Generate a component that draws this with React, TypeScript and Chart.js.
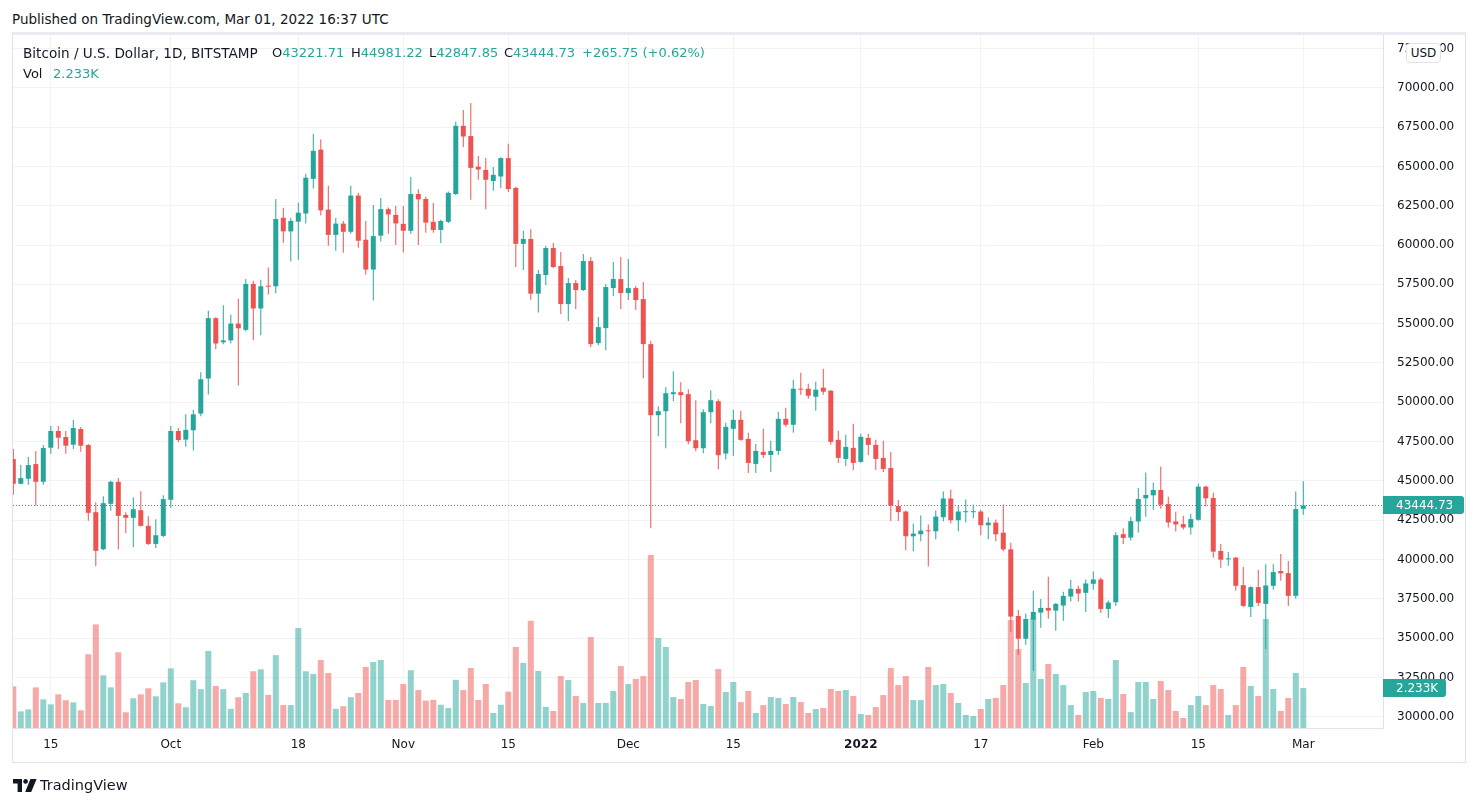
import React, { useEffect, useRef } from "react";
import { Chart, registerables } from "chart.js";

Chart.register(...registerables);

// ---------- data (BTC/USD, 1D, BITSTAMP; first candle 2021-09-10) ----------
const startDate = "2021-09-10";

const opens = [
  46389, 44817, 45136, 46071, 44945, 47111, 48173, 47791, 47302, 48301,
  47281, 43012, 40654, 43543, 44945, 42842, 42651, 43139, 42141, 40994,
  41504, 43798, 48173, 47625, 48219, 49284, 51511, 55347, 53813, 53937,
  55001, 54605, 57525, 55966, 57402, 57377, 61733, 60867, 61485, 62005,
  64208, 66064, 62253, 60644, 61362, 60842, 63144, 60335, 58440, 60594,
  62282, 61918, 61347, 60906, 63242, 62931, 61477, 60958, 61477, 63242,
  67578, 66929, 64982, 64774, 64073, 64358, 65527, 63632, 60075, 60387,
  56908, 58091, 59810, 58664, 56245, 57581, 57136, 58982, 53762, 54717,
  57263, 57836, 56945, 57263, 56563, 53698, 49178, 49433, 50515, 50642,
  50515, 47587, 47078, 49369, 50070, 46739, 48312, 48886, 47674, 46080,
  46845, 46654, 46909, 48950, 48567, 50863, 50863, 50353, 50927, 50736,
  47611, 46399, 47100, 46207, 47738, 47292, 46463, 45825, 43401, 43053,
  41478, 41606, 41861, 41797, 42691, 43882, 42499, 43010, 43010, 43053,
  42180, 42350, 41712, 40648, 36413, 34966, 36179, 36626, 36924, 36754,
  37073, 37647, 38137, 37882, 38458, 38735, 36859, 37286, 41612, 41398,
  42421, 43892, 44084, 44424, 43529, 42421, 42251, 42038, 42528, 44638,
  43913, 40546, 40013, 40120, 38372, 36987, 38245, 37180, 38330, 39268,
  39140, 37691, 43221.71,
];

const highs = [
  47026, 46007, 46517, 46899, 47281, 48492, 48492, 48173, 48874, 48428,
  47345, 43649, 44031, 45009, 45178, 43012, 43968, 44350, 42757, 42566,
  44095, 48492, 48364, 49234, 49531, 51907, 55818, 55400, 56164, 55570,
  56585, 57847, 57723, 57798, 58565, 62921, 62376, 61733, 62698, 64530,
  67079, 66708, 63762, 61733, 61535, 63762, 63317, 61529, 62541, 62983,
  62386, 62489, 62489, 64333, 63554, 63086, 62671, 61607, 63400, 67837,
  68590, 69031, 65656, 65527, 64956, 65580, 66435, 63700, 60906, 61010,
  58414, 59937, 60128, 59555, 57900, 57772, 59428, 59237, 55417, 57518,
  58918, 59237, 59109, 57390, 57645, 53889, 49751, 50961, 51979, 51279,
  50833, 50133, 49560, 50770, 50197, 48695, 49524, 49460, 48057, 47355,
  48312, 47547, 49396, 49652, 51437, 51884, 51182, 51310, 52139, 50780,
  48185, 47929, 48631, 47993, 47993, 47611, 47547, 46845, 43784, 43116,
  42286, 42797, 42223, 43116, 44329, 44457, 43436, 43819, 43499, 43180,
  42670, 42542, 43499, 41074, 36796, 36562, 38009, 37498, 38903, 37230,
  37945, 38711, 38328, 38735, 39246, 38863, 37392, 41739, 41995, 42698,
  44552, 45533, 44893, 45916, 43998, 43039, 42784, 42911, 44829, 44700,
  44254, 40994, 40482, 40162, 39523, 38300, 39331, 39694, 39694, 40355,
  39907, 44319, 44981.22,
];

const lows = [
  44116, 44790, 44754, 43416, 44754, 46729, 47026, 46729, 47026, 46856,
  42460, 39592, 40591, 43097, 40654, 41674, 40803, 42100, 40930, 40739,
  41440, 43288, 47472, 47180, 46932, 49110, 50496, 53367, 53689, 53739,
  51066, 54506, 53937, 54258, 56857, 56931, 60149, 58961, 59060, 61362,
  63589, 61881, 59951, 59629, 59505, 60718, 59827, 58128, 56467, 60231,
  60724, 59997, 59530, 60724, 59997, 60776, 60776, 60127, 61399, 63180,
  66228, 62879, 64151, 62282, 63450, 63632, 63372, 58595, 58414, 56519,
  55714, 57454, 58536, 55608, 55162, 55926, 57072, 53507, 53634, 53316,
  56754, 55926, 56499, 55863, 51534, 41985, 47841, 47078, 50070, 48669,
  47332, 46887, 46759, 48669, 45741, 46356, 46590, 47547, 45506, 45506,
  46463, 45570, 46654, 48440, 48057, 50481, 50226, 49460, 50481, 47292,
  46144, 45952, 45697, 46150, 46654, 45697, 45570, 42444, 42444, 40584,
  40520, 41159, 39563, 41286, 42435, 42308, 41797, 42372, 42627, 41542,
  41286, 41159, 40520, 35413, 33945, 34583, 32923, 35668, 36243, 35477,
  36115, 37328, 37328, 36668, 38074, 36604, 36284, 37051, 40994, 41207,
  41718, 42720, 43167, 43231, 42038, 41782, 41910, 41590, 42464, 43380,
  40120, 39481, 39608, 38010, 37000, 36348, 37051, 34303, 38075, 38650,
  37052, 37499, 42847.85,
];

const closes = [
  44817, 45178, 46007, 44945, 47090, 48173, 47748, 47239, 48364, 47239,
  42969, 40548, 43585, 44945, 42778, 42651, 43203, 42141, 40994, 41546,
  43840, 48173, 47600, 48244, 49234, 51462, 55347, 53739, 53937, 55001,
  54704, 57525, 55966, 57377, 57352, 61659, 60867, 61535, 62055, 64282,
  65990, 62203, 60644, 61362, 60842, 63144, 60273, 58440, 60568, 62282,
  61944, 61373, 60906, 63242, 62905, 61425, 60958, 61529, 63320, 67578,
  66903, 64904, 64800, 64151, 64462, 65527, 63554, 60075, 60387, 56908,
  58154, 59810, 58600, 56245, 57581, 57136, 58982, 53698, 54780, 57327,
  57836, 56945, 57263, 56499, 53698, 49178, 49433, 50579, 50642, 50451,
  47523, 47078, 49369, 50133, 46632, 48440, 48886, 47611, 46144, 46909,
  46654, 46909, 48950, 48567, 50863, 50800, 50417, 50800, 50672, 47483,
  46463, 47164, 46144, 47802, 47292, 46399, 45761, 43422, 43018, 41478,
  41648, 41840, 41797, 42733, 43882, 42499, 43053, 43074, 43074, 42180,
  42350, 41606, 40648, 36371, 34966, 36222, 36669, 36924, 36754, 37179,
  37690, 38137, 37839, 38479, 38735, 36859, 37264, 41548, 41377, 42443,
  43849, 44105, 44424, 43487, 42357, 42230, 42038, 42571, 44638, 43892,
  40503, 39992, 40077, 38330, 37051, 38245, 37243, 38352, 39204, 39119,
  37691, 43210, 43444.73,
];

// volume in thousands of BTC
const volumesK = [
  2.33, 0.93, 1.04, 2.27, 1.6, 1.32, 1.88, 1.55, 1.43, 0.99,
  4.12, 5.79, 2.94, 2.27, 4.23, 0.88, 1.66, 1.88, 2.22, 1.77,
  2.55, 3.33, 1.38, 1.16, 2.67, 2.17, 4.3, 2.35, 2.17, 1.07,
  1.72, 1.96, 3.17, 3.28, 1.85, 4.07, 1.28, 1.28, 5.59, 3.17,
  3.02, 3.8, 3.07, 1.07, 1.22, 1.72, 1.96, 3.41, 3.69, 3.8,
  1.57, 1.57, 2.46, 3.23, 2.12, 1.53, 1.57, 1.3, 1.12, 2.69,
  2.12, 3.35, 1.57, 2.46, 0.84, 1.3, 2.03, 4.53, 3.64, 5.99,
  3.19, 1.18, 0.95, 2.9, 2.68, 1.79, 1.4, 5.08, 1.4, 1.4,
  2.07, 3.46, 2.46, 2.74, 2.9, 9.66, 5.03, 4.53, 1.73, 1.62,
  2.57, 2.68, 1.34, 1.23, 3.3, 2.01, 2.57, 1.45, 2.07, 0.84,
  1.28, 1.73, 1.68, 1.34, 1.73, 1.45, 0.84, 1.06, 1.12, 2.18,
  2.07, 2.12, 1.79, 0.78, 0.73, 1.17, 1.84, 3.35, 2.4, 2.9,
  1.56, 1.56, 3.41, 2.4, 2.46, 1.96, 1.4, 0.73, 0.67, 1.06,
  1.62, 1.68, 2.4, 6.03, 4.41, 2.51, 6.15, 2.74, 3.58, 3.02,
  2.4, 1.28, 0.73, 2.01, 2.07, 1.68, 1.62, 3.8, 1.9, 0.89,
  2.57, 2.57, 1.62, 2.63, 2.12, 0.95, 0.56, 1.28, 1.79, 1.28,
  2.4, 2.18, 0.73, 1.28, 3.41, 2.35, 1.79, 6.09, 2.18, 0.95,
  1.68, 3.07, 2.233,
];

const timeTickDates = [
  "2021-09-15", "2021-10-01", "2021-10-18", "2021-11-01", "2021-11-15", "2021-12-01",
  "2021-12-15", "2022-01-01", "2022-01-17", "2022-02-01", "2022-02-15", "2022-03-01",
];
const timeTickLabels = ["15", "Oct", "18", "Nov", "15", "Dec", "15", "2022", "17", "Feb", "15", "Mar"];

const priceTicks = [
  30000, 32500, 35000, 37500, 40000, 42500, 45000, 47500, 50000,
  52500, 55000, 57500, 60000, 62500, 65000, 67500, 70000, 72500,
];

// ---------- view settings ----------
const X_MIN = -0.04;
const X_MAX = 182.63;
const P_MIN = 29288;
const P_MAX = 73355;
const VOL_MAX = 38.72;

const UP = "#26a69a";
const DOWN = "#ef5350";
const UP_VOL = "rgba(38,166,154,0.5)";
const DOWN_VOL = "rgba(239,83,80,0.5)";
const TEXT = "#131722";
const GRID = "#f0f3fa";
const BORDER = "#e0e3eb";
const FONT = "'DejaVu Sans', sans-serif";

function dayIndex(d: string): number {
  return Math.round((Date.parse(d) - Date.parse(startDate)) / 86400000);
}

export default function App() {
  const canvasRef = useRef<HTMLCanvasElement | null>(null);

  useEffect(() => {
    const canvas = canvasRef.current;
    if (!canvas) return;
    const n = closes.length;
    const idx = closes.map((_, i) => i);
    const isUp = closes.map((c, i) => c >= opens[i]);
    const candleColors = isUp.map((u) => (u ? UP : DOWN));
    const volColors = isUp.map((u) => (u ? UP_VOL : DOWN_VOL));
    const xTickValues = timeTickDates.map(dayIndex);
    const labelByIndex = new Map<number, string>(xTickValues.map((v, i) => [v, timeTickLabels[i]]));
    const lastClose = closes[n - 1];
    const lastVol = volumesK[n - 1];

    const overlay = {
      id: "tvOverlay",
      afterDatasetsDraw(chart: any) {
        const { ctx, chartArea } = chart;
        const y = Math.round(chart.scales.y.getPixelForValue(lastClose)) + 0.5;
        ctx.save();
        ctx.beginPath();
        ctx.rect(chartArea.left, chartArea.top, chartArea.right - chartArea.left, chartArea.bottom - chartArea.top);
        ctx.clip();
        ctx.strokeStyle = UP;
        ctx.lineWidth = 1;
        ctx.setLineDash([1, 2]);
        ctx.beginPath();
        ctx.moveTo(chartArea.left, y);
        ctx.lineTo(chartArea.right, y);
        ctx.stroke();
        ctx.restore();
      },
      afterDraw(chart: any) {
        const { ctx, chartArea } = chart;
        const drawTag = (yc: number, w: number, text: string) => {
          const x = chartArea.right;
          const h = 18;
          const top = Math.round(yc - h / 2);
          ctx.save();
          ctx.fillStyle = UP;
          ctx.beginPath();
          if (ctx.roundRect) ctx.roundRect(x, top, w, h, [0, 3, 3, 0]);
          else ctx.rect(x, top, w, h);
          ctx.fill();
          ctx.fillStyle = "#ffffff";
          ctx.font = `12px ${FONT}`;
          ctx.textBaseline = "middle";
          ctx.textAlign = "left";
          ctx.fillText(text, x + 13, top + h / 2 + 0.5);
          ctx.restore();
        };
        drawTag(chart.scales.y.getPixelForValue(lastClose), 81, lastClose.toFixed(2));
        drawTag(chart.scales.yv.getPixelForValue(lastVol), 63, lastVol.toFixed(3) + "K");
      },
    };

    const chart = new Chart(canvas, {
      type: "bar",
      data: {
        datasets: [
          {
            label: "Volume",
            data: idx.map((i) => ({ x: i, y: volumesK[i] })),
            yAxisID: "yv",
            backgroundColor: volColors,
            barThickness: 6,
            grouped: false,
            inflateAmount: 0,
            order: 3,
          } as any,
          {
            label: "Wick",
            data: idx.map((i) => ({ x: i, y: [lows[i], highs[i]] })),
            yAxisID: "y",
            backgroundColor: candleColors,
            barThickness: 1,
            grouped: false,
            inflateAmount: 0,
            order: 2,
          } as any,
          {
            label: "Body",
            data: idx.map((i) => ({ x: i, y: [opens[i], closes[i]] })),
            yAxisID: "y",
            backgroundColor: candleColors,
            barThickness: 5,
            minBarLength: 1,
            grouped: false,
            inflateAmount: 0,
            order: 1,
          } as any,
        ],
      },
      options: {
        responsive: false,
        animation: false,
        events: [],
        layout: { padding: { left: 13, top: 35, right: 13, bottom: 44 } },
        plugins: { legend: { display: false }, tooltip: { enabled: false } },
        scales: {
          x: {
            type: "linear",
            min: X_MIN,
            max: X_MAX,
            offset: false,
            grid: { color: GRID, offset: false, drawTicks: false },
            border: { display: true, color: BORDER },
            afterBuildTicks: (s: any) => {
              s.ticks = xTickValues.map((v) => ({ value: v }));
            },
            afterFit: (s: any) => {
              s.height = 34;
            },
            ticks: {
              autoSkip: false,
              maxRotation: 0,
              padding: 10,
              color: TEXT,
              font: (c: any) => ({
                family: FONT,
                size: 12,
                weight: c.tick && c.tick.label === "2022" ? "bold" : "normal",
              }),
              callback: (v: any) => labelByIndex.get(Number(v)) ?? "",
            },
          } as any,
          y: {
            type: "linear",
            position: "right",
            min: P_MIN,
            max: P_MAX,
            grid: { color: GRID, drawTicks: false },
            border: { display: true, color: BORDER },
            afterBuildTicks: (s: any) => {
              s.ticks = priceTicks.map((v) => ({ value: v }));
            },
            afterFit: (s: any) => {
              s.width = 82;
            },
            ticks: {
              padding: 14,
              color: TEXT,
              font: { family: FONT, size: 12 },
              callback: (v: any) => Number(v).toFixed(2),
            },
          } as any,
          yv: { type: "linear", display: false, min: 0, max: VOL_MAX } as any,
        },
      },
      plugins: [overlay],
    });
    return () => chart.destroy();
  }, []);

  const legendValue: React.CSSProperties = { color: UP };
  const abs = (left: number, top: number): React.CSSProperties => ({
    position: "absolute",
    left,
    top,
    whiteSpace: "nowrap",
    lineHeight: "16px",
  });

  return (
    <div
      style={{
        position: "fixed",
        left: 0,
        top: 0,
        width: 1478,
        height: 806,
        background: "#ffffff",
        overflow: "hidden",
        fontFamily: FONT,
        color: TEXT,
        fontSize: 13,
      }}
    >
      <div style={{ ...abs(12, 11), fontSize: 13.5 }}>Published on TradingView.com, Mar 01, 2022 16:37 UTC</div>
      <canvas
        ref={canvasRef}
        width={1478}
        height={806}
        style={{ position: "absolute", left: 0, top: 0, width: 1478, height: 806 }}
      />
      <div
        style={{
          position: "absolute",
          left: 12,
          top: 32,
          width: 1454,
          height: 731,
          boxSizing: "border-box",
          border: `1px solid ${BORDER}`,
          borderTop: "3px solid #e9ebf0",
          pointerEvents: "none",
        }}
      />
      <div style={{ ...abs(23, 45), fontSize: 13.6 }}>Bitcoin / U.S. Dollar, 1D, BITSTAMP</div>
      <div style={abs(272, 45)}>
        O<span style={legendValue}>43221.71</span>
      </div>
      <div style={abs(351, 45)}>
        H<span style={legendValue}>44981.22</span>
      </div>
      <div style={abs(429, 45)}>
        L<span style={legendValue}>42847.85</span>
      </div>
      <div style={abs(504, 45)}>
        C<span style={legendValue}>43444.73</span>
      </div>
      <div style={{ ...abs(582, 45), color: UP }}>+265.75 (+0.62%)</div>
      <div style={abs(23, 66)}>Vol</div>
      <div style={{ ...abs(53, 66), color: UP }}>2.233K</div>
      <div
        style={{
          position: "absolute",
          left: 1406,
          top: 43,
          width: 35,
          height: 20,
          boxSizing: "border-box",
          border: `1px solid ${BORDER}`,
          borderRadius: 4,
          background: "#ffffff",
          fontSize: 12,
          lineHeight: "18px",
          textAlign: "center",
        }}
      >
        USD
      </div>
      <svg style={{ position: "absolute", left: 13, top: 779 }} width={24} height={13} viewBox="0 0 24 13">
        <path d="M0 0 H9 V13 H4.6 V4.4 H0 Z" fill={TEXT} />
        <circle cx={12.6} cy={2.4} r={2.3} fill={TEXT} />
        <path d="M17.4 0 H23.6 L18.2 13 H12.2 Z" fill={TEXT} />
      </svg>
      <div style={{ ...abs(40, 776), fontSize: 14.5, lineHeight: "18px" }}>TradingView</div>
    </div>
  );
}
